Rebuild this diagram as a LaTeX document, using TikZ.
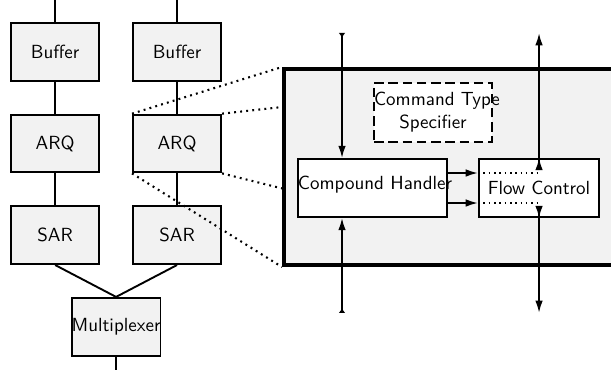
\documentclass[tikz,border=0pt]{standalone}
\usepackage{tikz}
\usetikzlibrary{arrows.meta, positioning, calc}

\begin{document}
\begin{tikzpicture}[
    node distance=0.59cm and 0.59cm,
    block/.style={rectangle, draw, line width=1pt, fill=gray!10, minimum width=1.63cm, minimum height=1.07cm, inner xsep=0pt, align=center, font=\sffamily},
    part/.style={rectangle, draw, line width=1pt, fill=white, minimum height=1.07cm, inner xsep=0pt, align=center, font=\sffamily},
    zoombox/.style={rectangle, draw, line width=2.1pt, fill=gray!10, minimum width=7cm, minimum height=3.626cm},
    link/.style={line width=1pt},
    zoomline/.style={line width=1.1pt, dash pattern=on 1pt off 2.2pt},
    arrow/.style={-{Latex[length=6.5pt, width=4pt]}, line width=1pt},
    inarrow/.style={{Latex[reversed, length=2.5pt, width=3.5pt]}-{Latex[length=6.5pt, width=4pt]}, line width=1pt},
    outarrow/.style={{Latex[reversed, length=6.5pt, width=4pt]}-{Latex[length=6.5pt, width=4pt]}, line width=1pt}
]
\useasboundingbox (0,0) rectangle (11.3035,-6.845);
\clip (0,0) rectangle (11.3035,-6.845);

% Stacks
\node[block] (buf1) at (1.02,-0.96) {Buffer};
\node[block, right=of buf1] (buf2) {Buffer};
\node[block, below=of buf1] (arq1) {ARQ};
\node[block, below=of buf2] (arq2) {ARQ};
\node[block, below=of arq1] (sar1) {SAR};
\node[block, below=of arq2] (sar2) {SAR};

% Multiplexer
\coordinate (join) at ($(sar1.south)!0.5!(sar2.south)$);
\node[block, below=of join] (mux) {Multiplexer};

% Open ends
\coordinate (top) at (0,0);
\coordinate (bottom) at (0,-6.845);

% Links
\draw[link] (buf1.north) -- (buf1.north |- top);
\draw[link] (buf2.north) -- (buf2.north |- top);
\draw[link] (buf1) -- (arq1);
\draw[link] (buf2) -- (arq2);
\draw[link] (arq1) -- (sar1);
\draw[link] (arq2) -- (sar2);
\draw[link] (sar1.south) -- (mux.north);
\draw[link] (sar2.south) -- (mux.north);
\draw[link] (mux.south) -- (mux.south |- bottom);

% Zoomed ARQ
\node[zoombox, anchor=north west] (zoom) at (5.217,-1.24) {};
\coordinate (zA) at ($(zoom.north west)!0.2!(zoom.south west)$);
\coordinate (zB) at ($(zoom.north west)!0.607!(zoom.south west)$);
\draw[zoomline] (arq2.north west) -- (zoom.north west);
\draw[zoomline] (arq2.north east) -- (zA);
\draw[zoomline] (arq2.south east) -- (zB);
\draw[zoomline] (arq2.south west) -- (zoom.south west);

% Inside
\node[part, dash pattern=on 5pt off 2.5pt, text width=2.18cm, minimum height=1.09cm] (spec) at (8.01,-2.081) {\mbox{Command Type}\\Specifier};
\node[part, text width=2.757cm, text depth=0.2cm] (handler) at (6.891,-3.478) {\mbox{Compound Handler}};
\node[part, text width=2.22cm] (flow) at (9.972,-3.478) {Flow Control};

% Handler to flow
\coordinate (hi) at ($(handler.east)+(0,0.2775)$);
\coordinate (lo) at ($(handler.east)+(0,-0.2775)$);
\draw[arrow] (hi) -- (hi -| flow.west);
\draw[arrow] (lo) -- (lo -| flow.west);
\draw[thick, dotted] (hi -| flow.west) -- (hi -| flow.north);
\draw[thick, dotted] (lo -| flow.west) -- (lo -| flow.north);

% Vertical ports
\coordinate (srcA) at (6.327,-0.61);
\coordinate (srcB) at (6.327,-5.79);
\coordinate (dstA) at (9.972,-0.61);
\coordinate (dstB) at (9.972,-5.79);
\coordinate (upA) at ($(flow.center)+(0,0.33)$);
\coordinate (upB) at ($(flow.center)+(0,-0.33)$);
\draw[inarrow] (srcA) -- (srcA |- handler.north);
\draw[inarrow] (srcB) -- (srcB |- handler.south);
\draw[outarrow] (upA) -- (dstA);
\draw[outarrow] (upB) -- (dstB);

\end{tikzpicture}
\end{document}
